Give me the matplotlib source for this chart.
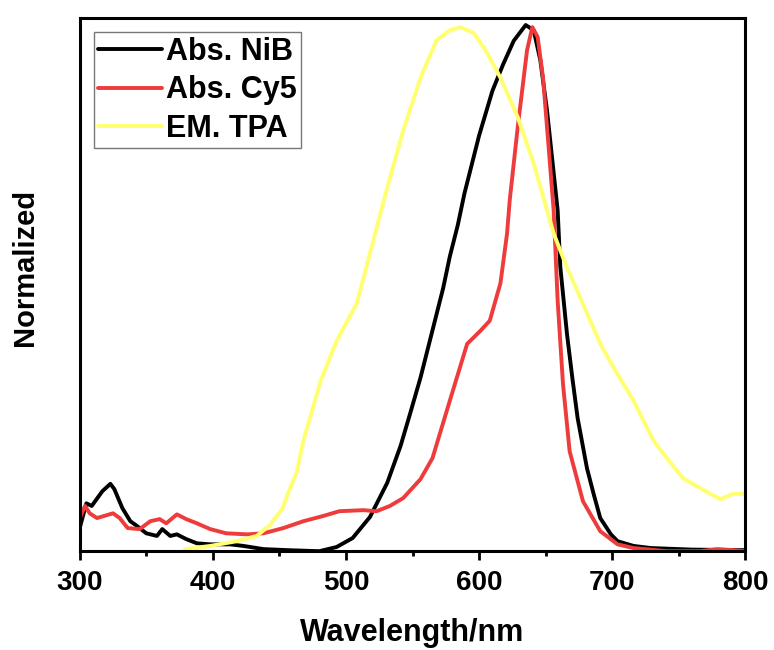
import numpy as np
import matplotlib
matplotlib.use('Agg')
import matplotlib.pyplot as plt
from matplotlib.ticker import MultipleLocator

# values (normalized intensity)
nib_wl = [300, 305, 309, 317, 323, 326, 332, 338, 343, 350, 358, 362, 368, 373, 380, 388, 398,
          413, 423, 438, 456, 480, 493, 505, 518, 531, 541, 548, 556, 566, 573, 578, 584, 589,
          600, 610, 618, 626, 635, 641, 646, 651, 655, 659, 661, 666, 670, 674, 681, 686, 691,
          699, 704, 716, 729, 760, 800]
nib_abs = [0.044, 0.091, 0.086, 0.114, 0.128, 0.118, 0.082, 0.057, 0.048, 0.034, 0.029, 0.042,
           0.029, 0.032, 0.023, 0.015, 0.013, 0.013, 0.010, 0.004, 0.002, 0.0, 0.008, 0.025,
           0.065, 0.13, 0.20, 0.26, 0.33, 0.43, 0.50, 0.56, 0.62, 0.68, 0.79, 0.875, 0.925,
           0.97, 1.0, 0.99, 0.933, 0.838, 0.743, 0.648, 0.54, 0.413, 0.33, 0.253, 0.158, 0.109,
           0.063, 0.032, 0.019, 0.010, 0.006, 0.003, 0.002]

cy5_wl = [300, 304, 307.5, 313, 325, 330, 336, 345, 353, 360, 365, 373, 380, 388, 398, 410, 426,
          438, 453, 468, 483, 495, 513, 523, 533, 543, 556, 565, 578, 591, 601, 608, 616, 621,
          623, 629, 636, 640, 644, 648, 652, 656, 659, 663, 668, 678, 691, 704, 716, 741, 766,
          779, 791, 800]
cy5_abs = [0.063, 0.086, 0.072, 0.063, 0.072, 0.063, 0.044, 0.042, 0.057, 0.061, 0.053, 0.070,
           0.061, 0.053, 0.042, 0.034, 0.032, 0.034, 0.044, 0.057, 0.067, 0.076, 0.078, 0.076,
           0.086, 0.101, 0.137, 0.177, 0.286, 0.394, 0.419, 0.438, 0.509, 0.604, 0.667, 0.806,
           0.952, 0.996, 0.977, 0.90, 0.775, 0.648, 0.476, 0.318, 0.19, 0.095, 0.038, 0.013,
           0.006, 0.0, 0.0, 0.004, 0.002, 0.0]

tpa_wl = [379, 398, 418, 433, 443, 452, 458, 463, 468, 481, 493, 508, 518, 531, 543, 556, 568,
          578, 586, 596, 606, 616, 629, 641, 651, 656, 666, 678, 691, 701, 716, 731, 741, 753,
          766, 781, 791, 800]
tpa_em = [0.004, 0.010, 0.019, 0.029, 0.050, 0.080, 0.12, 0.15, 0.21, 0.324, 0.40, 0.47, 0.566,
          0.691, 0.80, 0.90, 0.971, 0.99, 0.996, 0.985, 0.947, 0.90, 0.825, 0.737, 0.648, 0.604,
          0.539, 0.47, 0.394, 0.349, 0.286, 0.21, 0.177, 0.139, 0.12, 0.099, 0.109, 0.109]

plt.rcParams['font.family'] = ['Liberation Sans', 'DejaVu Sans']
plt.rcParams['font.weight'] = 'bold'

fig = plt.figure(figsize=(7.74, 6.5), dpi=100)
ax = fig.add_axes([0.103, 0.152, 0.860, 0.820])

line_kw = dict(lw=2.8, solid_joinstyle='round', solid_capstyle='round')
ax.plot(nib_wl, nib_abs, color='black', label='Abs. NiB', **line_kw)
ax.plot(cy5_wl, cy5_abs, color='#ee3b3b', label='Abs. Cy5', **line_kw)
ax.plot(tpa_wl, tpa_em, color='#ffff70', label='EM. TPA', **line_kw)

ax.set_xlim(300, 800)
ax.set_ylim(0, 1.013)
ax.xaxis.set_major_locator(MultipleLocator(100))
ax.xaxis.set_minor_locator(MultipleLocator(50))
ax.tick_params(axis='x', which='major', direction='out', length=6.5, width=2, labelsize=20, pad=7)
ax.tick_params(axis='x', which='minor', direction='out', length=3.5, width=2)
ax.tick_params(axis='y', left=False, labelleft=False)
for s in ax.spines.values():
    s.set_linewidth(2.2)

ax.set_xlabel('Wavelength/nm', fontsize=22, fontweight='bold', labelpad=16)
ax.set_ylabel('Normalized', fontsize=21, fontweight='bold', labelpad=29, y=0.532)

leg = ax.legend(loc='upper left', bbox_to_anchor=(0.021, 0.974), borderaxespad=0,
                fontsize=22, handlelength=2.1, handletextpad=0.12, labelspacing=0.28,
                borderpad=0.15, fancybox=False, framealpha=1, edgecolor='#777777')
leg.get_frame().set_linewidth(1)
for t in leg.get_texts():
    t.set_fontweight('bold')

fig.savefig('out.png', dpi=100)
